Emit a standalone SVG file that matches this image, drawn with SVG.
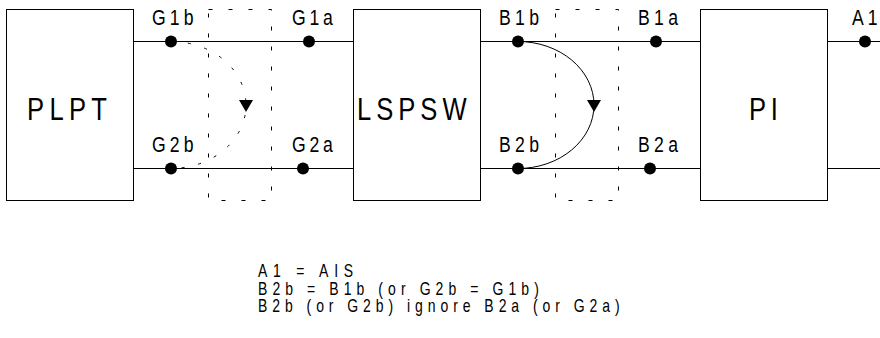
<svg xmlns="http://www.w3.org/2000/svg" width="880" height="338" viewBox="0 0 880 338">
<style>
.box{fill:#fff;stroke:#000;stroke-width:1}
.big{font-family:"Liberation Sans",Arial,sans-serif;font-size:32px;fill:#000}
.lbl{font-family:"Liberation Sans",Arial,sans-serif;font-size:22px;fill:#000}
.note{font-family:"Liberation Sans",Arial,sans-serif;font-size:17.5px;fill:#000}
.wire{stroke:#000;stroke-width:1;fill:none}
.frame{fill:none;stroke:#000;stroke-width:1;stroke-dasharray:4 16}
.dot{fill:#000}
.arcs{stroke:#000;stroke-width:1;fill:none}
.arcd{stroke:#000;stroke-width:1;fill:none;stroke-dasharray:3 14}
.head{fill:#000}
</style>
<g id="connectors">
<line class="wire" x1="133" y1="41.5" x2="353" y2="41.5"/>
<line class="wire" x1="133" y1="168.5" x2="353" y2="168.5"/>
<line class="wire" x1="480" y1="41.5" x2="701" y2="41.5"/>
<line class="wire" x1="480" y1="168.5" x2="701" y2="168.5"/>
<line class="wire" x1="827" y1="41.5" x2="880" y2="41.5"/>
<line class="wire" x1="827" y1="168.5" x2="880" y2="168.5"/>
<path class="arcd" d="M171,41.5 A75,63.5 0 0 1 171,168.5"/>
<polygon class="head" points="239,100 253,100 246,112"/>
<path class="arcs" d="M518,41.5 A76,63.5 0 0 1 518,168.5"/>
<polygon class="head" points="587,100 601,100 594,112"/>
</g>
<g id="frames">
<rect class="frame" x="208.5" y="9.5" width="63" height="191"/>
<rect class="frame" x="555.5" y="9.5" width="63" height="191"/>
</g>
<g id="PLPT">
<rect class="box" x="6.5" y="9.5" width="127" height="191"/>
<text class="big" transform="translate(27,120) scale(0.8,1)" textLength="100">PLPT</text>
</g>
<g id="LSPSW">
<rect class="box" x="353.5" y="9.5" width="127" height="191"/>
<text class="big" transform="translate(357,120) scale(0.8,1)" textLength="137">LSPSW</text>
</g>
<g id="PI">
<rect class="box" x="700.5" y="9.5" width="127" height="191"/>
<text class="big" transform="translate(749,120) scale(0.8,1)" textLength="36">PI</text>
</g>
<g id="G1b"><circle class="dot" cx="171" cy="41.5" r="6"/><text class="lbl" transform="translate(152,25) scale(0.8,1)" textLength="52">G1b</text></g>
<g id="G2b"><circle class="dot" cx="171" cy="168.5" r="6"/><text class="lbl" transform="translate(152,152) scale(0.8,1)" textLength="52">G2b</text></g>
<g id="G1a"><circle class="dot" cx="309" cy="41.5" r="6"/><text class="lbl" transform="translate(292,25) scale(0.8,1)" textLength="51">G1a</text></g>
<g id="G2a"><circle class="dot" cx="303" cy="168.5" r="6"/><text class="lbl" transform="translate(292,152) scale(0.8,1)" textLength="51">G2a</text></g>
<g id="B1b"><circle class="dot" cx="518" cy="41.5" r="6"/><text class="lbl" transform="translate(499,25) scale(0.8,1)" textLength="50">B1b</text></g>
<g id="B2b"><circle class="dot" cx="518" cy="168.5" r="6"/><text class="lbl" transform="translate(499,152) scale(0.8,1)" textLength="50">B2b</text></g>
<g id="B1a"><circle class="dot" cx="656" cy="41.5" r="6"/><text class="lbl" transform="translate(638,25) scale(0.8,1)" textLength="50">B1a</text></g>
<g id="B2a"><circle class="dot" cx="650" cy="168.5" r="6"/><text class="lbl" transform="translate(638,152) scale(0.8,1)" textLength="50">B2a</text></g>
<g id="A1"><circle class="dot" cx="865" cy="41.5" r="6"/><text class="lbl" transform="translate(852,25) scale(0.8,1)" textLength="32">A1</text></g>
<g id="notes">
<text class="note" transform="translate(258,277) scale(0.8,1)" textLength="119">A1 = AIS</text>
<text class="note" transform="translate(258,295) scale(0.8,1)" textLength="351">B2b = B1b (or G2b = G1b)</text>
<text class="note" transform="translate(258,312) scale(0.8,1)" textLength="452">B2b (or G2b) ignore B2a (or G2a)</text>
</g>
</svg>
